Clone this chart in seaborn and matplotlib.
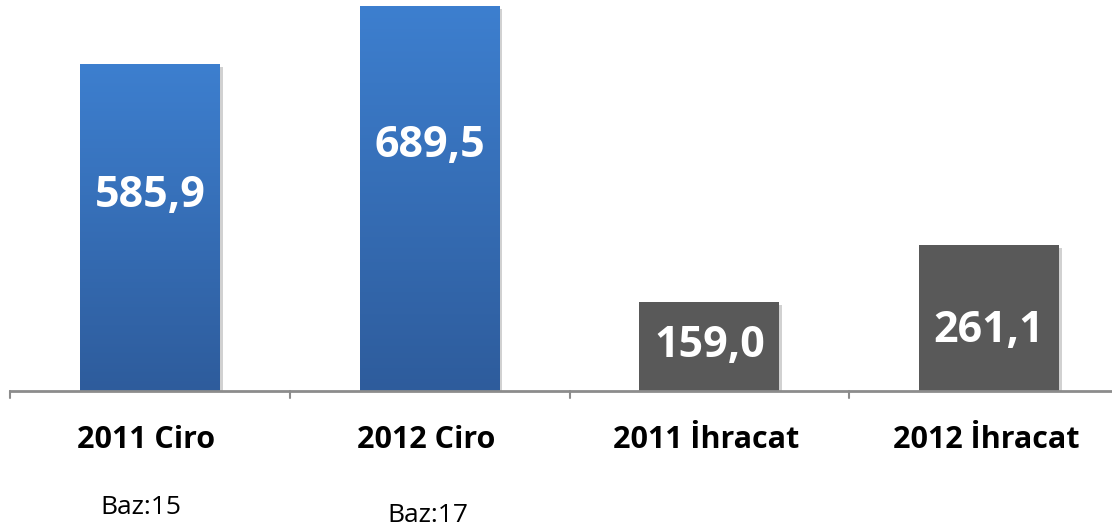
import numpy as np
import pandas as pd
import seaborn as sns
import matplotlib.pyplot as plt
from matplotlib import patheffects as pe
from matplotlib.colors import LinearSegmentedColormap

categories = ['2011 Ciro', '2012 Ciro', '2011 İhracat', '2012 İhracat']
values = [585.9, 689.5, 159.0, 261.1]
value_labels = ['585,9', '689,5', '159,0', '261,1']
base_notes = ['Baz:15', 'Baz:17']

sns.set_theme(style='white')
plt.rcParams['font.family'] = ['Open Sans', 'DejaVu Sans']

df = pd.DataFrame({'kategori': categories, 'deger': values})
colors = ['#3a7ac6', '#3a7ac6', '#595959', '#595959']

fig = plt.figure(figsize=(11.12, 5.30), dpi=100)
# axes runs a little past the right edge like the original
ax = fig.add_axes([10 / 1112, 139 / 530, 1119 / 1112, 391 / 530])
sns.barplot(data=df, x='kategori', y='deger', hue='kategori', palette=colors,
            width=0.5, legend=False, ax=ax, saturation=1)

ax.set_xlim(-0.5, 3.5)
ax.set_ylim(0, 700.6)
ax.set_xlabel('')
ax.set_ylabel('')
ax.set_yticks([])
ax.set_xticks([])
for s in ['top', 'right', 'left']:
    ax.spines[s].set_visible(False)
ax.spines['bottom'].set_color('#8c8c8c')
ax.spines['bottom'].set_linewidth(2)
ax.spines['bottom'].set_zorder(5)

# boundary tick marks
for b in [-0.5, 0.5, 1.5, 2.5, 3.5]:
    ax.plot([b, b], [0, -12], color='#8c8c8c', lw=1.5, clip_on=False, zorder=5)

blue_grad = LinearSegmentedColormap.from_list('g', ['#2e5c9c', '#3d7fcf'])
shadow = [pe.SimplePatchShadow(offset=(2, -2), shadow_rgbFace='#000000', alpha=0.18),
          pe.Normal()]
for i, bar in enumerate(ax.patches):
    bar.set_path_effects(shadow)
    bar.set_edgecolor('none')
    if i < 2:
        x0, w, h = bar.get_x(), bar.get_width(), bar.get_height()
        grad = np.linspace(0, 1, 256).reshape(-1, 1)
        im = ax.imshow(grad, cmap=blue_grad, origin='lower', aspect='auto',
                       extent=[x0, x0 + w, 0, h], zorder=bar.get_zorder() + 0.1)
        im.set_clip_path(bar)

label_y = [195, 145, 345, 330]
for i, (v, t) in enumerate(zip(values, value_labels)):
    yy = 391 - label_y[i]
    ax.text(i, yy / 0.5581, t, ha='center', va='center', color='white',
            fontsize=31, fontweight='bold', zorder=10)

for i, c in enumerate(categories):
    fig.text((10 + 136 + 280 * i) / 1112, 1 - 440 / 530, c, ha='center', va='center',
             fontsize=22, fontweight='bold', color='black')

note_pos = [(141, 508), (428, 515)]
for (x, y), n in zip(note_pos, base_notes):
    fig.text(x / 1112, 1 - y / 530, n, ha='center', va='center', fontsize=19, color='black')

fig.savefig('out.png', dpi=100)
